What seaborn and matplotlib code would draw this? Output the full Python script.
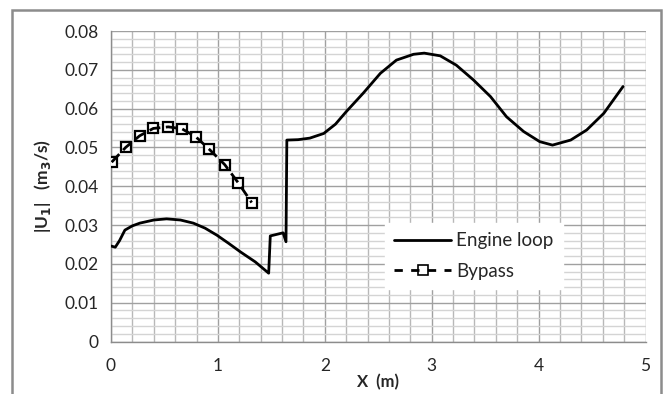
import matplotlib
matplotlib.use("Agg")
import matplotlib.pyplot as plt
from matplotlib.lines import Line2D
from matplotlib.patches import Rectangle
from matplotlib.ticker import MultipleLocator
import numpy as np
import pandas as pd
import seaborn as sns

# Engine loop |U1| along x
engine_x = [0.00, 0.04, 0.08, 0.13, 0.20, 0.27, 0.40, 0.52, 0.65, 0.77, 0.88, 0.99, 1.10, 1.21, 1.35, 1.475,
            1.49, 1.61, 1.637, 1.645, 1.75, 1.86, 1.99, 2.10, 2.20, 2.36, 2.52, 2.67, 2.83, 2.93, 3.08,
            3.23, 3.39, 3.55, 3.70, 3.86, 4.01, 4.13, 4.30, 4.45, 4.61, 4.79]
engine_y = [0.0246, 0.0243, 0.0260, 0.0287, 0.0298, 0.0305, 0.0313, 0.0316, 0.0313, 0.0305, 0.0292, 0.0274, 0.0253, 0.0231, 0.0205, 0.0176,
            0.0272, 0.0280, 0.0257, 0.0519, 0.0520, 0.0524, 0.0536, 0.0560, 0.0592, 0.0640, 0.0691, 0.0725, 0.0740, 0.0743, 0.0736,
            0.0712, 0.0674, 0.0631, 0.0579, 0.0541, 0.0515, 0.0506, 0.0519, 0.0545, 0.0588, 0.0657]

# Bypass |U1| along x
bypass_x = [0.006, 0.137, 0.268, 0.396, 0.536, 0.664, 0.795, 0.920, 1.063, 1.190, 1.316]
bypass_y = [0.0462, 0.0500, 0.0530, 0.0549, 0.0553, 0.0548, 0.0527, 0.0495, 0.0456, 0.0409, 0.0358]

x_ticks = [0, 1, 2, 3, 4, 5]
y_ticks = [0, 0.01, 0.02, 0.03, 0.04, 0.05, 0.06, 0.07, 0.08]
y_tick_labels = ["0", "0.01", "0.02", "0.03", "0.04", "0.05", "0.06", "0.07", "0.08"]

sns.set_style("white")
plt.rcParams['font.family'] = ['Lato', 'DejaVu Sans']

fig = plt.figure(figsize=(6.65, 3.94), dpi=100)
ax = fig.add_axes([111/665, 1-341.5/394, (645.5-111)/665, (341.5-31)/394])

eng = pd.DataFrame({"x": engine_x, "y": engine_y})
byp = pd.DataFrame({"x": bypass_x, "y": bypass_y})

sns.lineplot(data=eng, x="x", y="y", sort=False, estimator=None, ax=ax,
             color="black", lw=2.0, zorder=4)
# markers with white face, then dashed line on top
sns.lineplot(data=byp, x="x", y="y", sort=False, estimator=None, ax=ax,
             color="black", lw=0, marker="s", markersize=7.5, markerfacecolor="white",
             markeredgecolor="black", markeredgewidth=1.6, zorder=4)
sns.lineplot(data=byp, x="x", y="y", sort=False, estimator=None, ax=ax,
             color="black", lw=2.0, dashes=False, zorder=5)
for l in ax.lines[-1:]:
    l.set_dashes([4, 2])

ax.set_xlim(0, 5)
ax.set_ylim(0, 0.08)
ax.set_xticks(x_ticks)
ax.set_yticks(y_ticks)
ax.set_yticklabels(y_tick_labels)
ax.xaxis.set_minor_locator(MultipleLocator(0.2))
ax.yaxis.set_minor_locator(MultipleLocator(0.002))

ax.grid(which="minor", axis="y", color="#d4d4d4", lw=1.0, zorder=0)
ax.grid(which="minor", axis="x", color="#b8b8b8", lw=1.0, zorder=0)
ax.grid(which="major", axis="both", color="#a0a0a0", lw=1.0, zorder=1)
ax.set_axisbelow(True)

for s in ["top", "right"]:
    ax.spines[s].set_visible(False)
for s in ["left", "bottom"]:
    ax.spines[s].set_color("#8c8c8c")
    ax.spines[s].set_linewidth(1.0)

ax.tick_params(which="major", direction="out", length=5, width=1, color="#8c8c8c",
               labelsize=12.5, labelcolor="#262626", pad=4)
ax.tick_params(which="minor", length=0)
ax.tick_params(axis="x", pad=7)

ax.set_xlabel("X  (m)", fontsize=12, fontweight="bold", labelpad=0)
ax.set_ylabel("|U$_\\mathbf{1}$|   (m$_\\mathbf{3}$/s)", fontsize=12.5, fontweight="bold", labelpad=8)

handles = [Line2D([], [], color="black", lw=2),
           Line2D([], [], color="black", lw=2, dashes=[3, 3], marker="s", markersize=7,
                  markerfacecolor="none", markeredgecolor="black", markeredgewidth=1.2)]
leg = ax.legend(handles, ["Engine loop", "Bypass"], loc="upper left",
                bbox_to_anchor=((385-111)/534.5, (341.5-223)/310.5), frameon=True,
                fontsize=13.5, handlelength=3.0, labelspacing=0.7, borderpad=0.5,
                handletextpad=0.3, fancybox=False, borderaxespad=0)
leg.get_frame().set_edgecolor("white")
leg.get_frame().set_facecolor("white")
leg.get_frame().set_alpha(1)
leg.set_zorder(6)

fig.patches.append(Rectangle((12/665, -0.2), (661-12)/665, 1.2 - 10/394, transform=fig.transFigure,
                             fill=False, edgecolor="#8c8c8c", lw=1.8))

fig.savefig("out.png", dpi=100)
